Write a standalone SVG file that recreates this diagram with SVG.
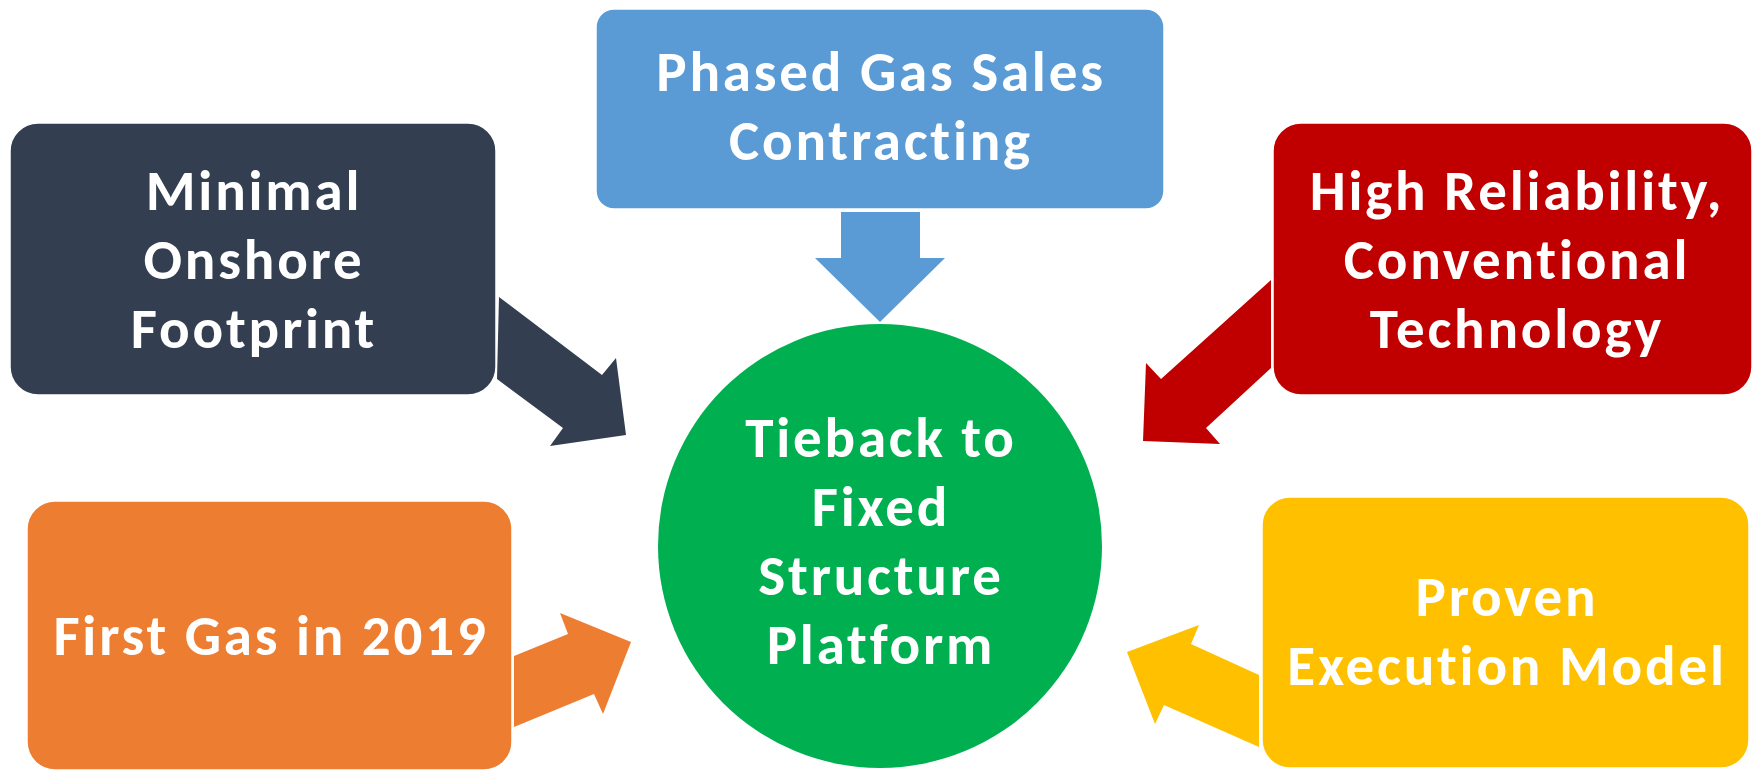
<svg xmlns="http://www.w3.org/2000/svg" width="1754" height="770" viewBox="0 0 1754 770">
<style>
.box{stroke:#ffffff;stroke-width:1.5}
.t{font-family:Carlito,Calibri,Lato,"Noto Sans",sans-serif;font-weight:bold;font-size:57px;letter-spacing:2.8px;fill:#ffffff;text-anchor:middle;font-variant-ligatures:none;font-feature-settings:"liga" 0,"clig" 0}
</style>
<rect width="1754" height="770" fill="#ffffff"/>
<g id="connectors">
<polygon points="841,212 920,212 920,258 945,258 880,322 815,258 841,258" fill="#5B9BD5"/>
<polygon points="499,297 602,375 616,358 626,435 550,446 563,428 497,379" fill="#333F50"/>
<polygon points="1271,280 1161,379 1146,363 1143,441 1220,444 1206,428 1271,368" fill="#C00000"/>
<polygon points="514,656 568,634 560,613 631,642 603,714 594,694 514,727" fill="#ED7D31"/>
<polygon points="1259,675 1191,644 1199,625 1127,652 1155,724 1164,705 1259,747" fill="#FFC000"/>
</g>
<g id="center">
<circle cx="880" cy="546" r="222" fill="#00B050"/>
<text class="t"><tspan x="881" y="457">Tieback to</tspan><tspan x="881" y="526">Fixed</tspan><tspan x="881" y="595">Structure</tspan><tspan x="881" y="664">Platform</tspan></text>
</g>
<g id="phased">
<rect class="box" x="596" y="9" width="568" height="200" rx="18" fill="#5B9BD5"/>
<text class="t"><tspan x="881" y="91">Phased Gas Sales</tspan><tspan x="881" y="160">Contracting</tspan></text>
</g>
<g id="minimal">
<rect class="box" x="10" y="123" width="486" height="272" rx="28" fill="#333F50"/>
<text class="t"><tspan x="254" y="210">Minimal</tspan><tspan x="254" y="279">Onshore</tspan><tspan x="254" y="348">Footprint</tspan></text>
</g>
<g id="reliability">
<rect class="box" x="1273" y="123" width="479" height="272" rx="28" fill="#C00000"/>
<text class="t"><tspan x="1517" y="210">High Reliability,</tspan><tspan x="1517" y="279">Conventional</tspan><tspan x="1517" y="348">Technology</tspan></text>
</g>
<g id="firstgas">
<rect class="box" x="27" y="501" width="485" height="269" rx="28" fill="#ED7D31"/>
<text class="t" x="271" y="655">First Gas in 2019</text>
</g>
<g id="proven">
<rect class="box" x="1262" y="497" width="487" height="271" rx="28" fill="#FFC000"/>
<text class="t"><tspan x="1507" y="616">Proven</tspan><tspan x="1507" y="685">Execution Model</tspan></text>
</g>
</svg>
